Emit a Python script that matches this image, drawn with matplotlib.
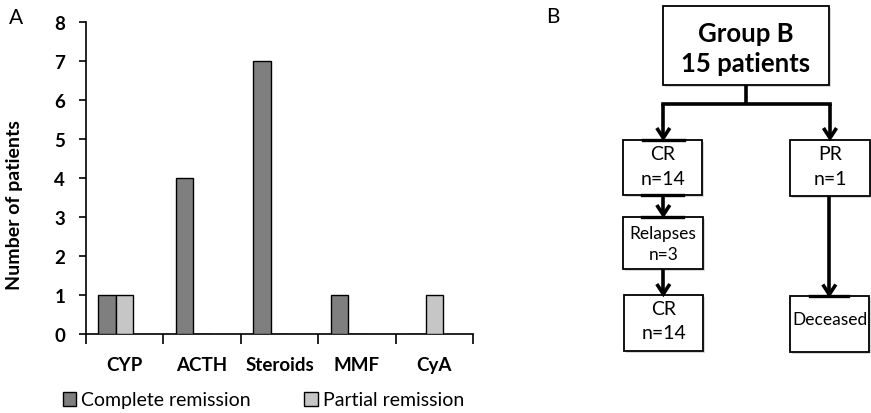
import matplotlib
matplotlib.use("Agg")
import matplotlib.pyplot as plt
from matplotlib.patches import Rectangle
from matplotlib.lines import Line2D

plt.rcParams['font.family'] = ['Lato', 'DejaVu Sans']

# ---- data ----
categories = ["CYP", "ACTH", "Steroids", "MMF", "CyA"]
complete_remission = [1, 4, 7, 1, 0]
partial_remission = [1, 0, 0, 0, 1]
yticks = [0, 1, 2, 3, 4, 5, 6, 7, 8]
series_labels = ["Complete remission", "Partial remission"]

flow_top = ["Group B", "15 patients"]
flow_cr = ["CR", "n=14"]
flow_pr = ["PR", "n=1"]
flow_rel = ["Relapses", "n=3"]
flow_cr2 = ["CR", "n=14"]
flow_dec = ["Deceased"]

W, H = 871, 414
fig = plt.figure(figsize=(W / 100, H / 100), dpi=100)

dark = "#7f7f7f"
light = "#c6c6c6"

# ---- Panel A ----
ax = fig.add_axes([86 / W, (H - 335) / H, 387 / W, (335 - 22.7) / H])
bw = 0.226
x = list(range(len(categories)))
b1 = ax.bar([i - bw for i in x], complete_remission, width=bw, color=dark,
            edgecolor="black", linewidth=1.0, zorder=3)
b2 = ax.bar(x, partial_remission, width=bw, color=light,
            edgecolor="black", linewidth=1.0, zorder=3)
ax.set_xlim(-0.5, len(categories) - 0.5)
ax.set_ylim(0, 8)
ax.set_yticks(yticks)
ax.set_yticklabels([str(v) for v in yticks], fontsize=13.5, fontweight="bold")
ax.set_xticks([i - 0.5 for i in range(len(categories) + 1)])
ax.set_xticklabels([])
ax.set_xticks(x, minor=True)
ax.set_xticklabels(categories, minor=True, fontsize=13.5, fontweight="bold")
ax.tick_params(axis="x", which="major", length=7, width=1.2, direction="out")
ax.tick_params(axis="x", which="minor", length=0, pad=16)
ax.tick_params(axis="y", length=5, width=1.2, direction="out", pad=10)
for s in ["top", "right"]:
    ax.spines[s].set_visible(False)
for s in ["left", "bottom"]:
    ax.spines[s].set_linewidth(1.2)
ax.set_ylabel("Number of patients", fontsize=14, fontweight="bold")
ax.yaxis.set_label_coords(-0.163, 0.416)

leg = fig.legend([b1, b2], series_labels, loc="center left",
                 bbox_to_anchor=(55 / W, (H - 401) / H), ncol=2, frameon=False,
                 fontsize=14, handlelength=0.7, handleheight=0.7,
                 handletextpad=0.25, columnspacing=2.75, borderaxespad=0)

fig.text(9 / W, (H - 18) / H, "A", fontsize=15, va="center", ha="left")
fig.text(546 / W, (H - 17) / H, "B", fontsize=15, va="center", ha="left")

# ---- Panel B (flowchart, pixel coordinates) ----
fx = fig.add_axes([0, 0, 1, 1], zorder=5)
fx.set_xlim(0, W)
fx.set_ylim(H, 0)
fx.axis("off")
fx.patch.set_alpha(0)

LW = 2.6


def box(x0, y0, x1, y1, lines, fs, bold=False, ys=None):
    fx.add_patch(Rectangle((x0 + 2, y0 + 2), x1 - x0, y1 - y0, facecolor="#d8d8d8",
                           edgecolor="none", zorder=1))
    fx.add_patch(Rectangle((x0, y0), x1 - x0, y1 - y0, facecolor="white",
                           edgecolor="black", linewidth=1.3, zorder=2))
    cx = (x0 + x1) / 2
    for t, yy in zip(lines, ys):
        fx.text(cx, yy, t, fontsize=fs, ha="center", va="center",
                fontweight="bold" if bold else "normal", zorder=3)


def line(xs, ys, cap="butt"):
    fx.add_line(Line2D(xs, ys, color="black", linewidth=LW, zorder=4,
                       solid_capstyle=cap, solid_joinstyle="miter"))


def arrow(x0, y0, x1, y1):
    line([x0, x1], [y0, y1 - 1])
    line([x1 - 6.5, x1, x1 + 6.5], [y1 - 11, y1 - 1, y1 - 11])


def seg(x0, x1, y):
    fx.add_line(Line2D([x0, x1], [y, y], color="black", linewidth=2.4, zorder=4))


box(662.7, 7.3, 829.3, 86, flow_top, 18.5, bold=True, ys=[34, 64])
box(623.3, 140.7, 702.3, 196, flow_cr, 14, ys=[155, 180])
box(790, 140.7, 870, 196.7, flow_pr, 14, ys=[155, 180])
box(623.3, 217.7, 703.3, 270, flow_rel, 12.5, ys=[234, 255])
box(624, 296, 703.3, 351.7, flow_cr2, 14, ys=[310, 334])
box(790, 296.7, 869.3, 352.7, flow_dec, 12.5, ys=[320])

# connectors
line([746, 746], [86, 105])
line([663.3, 830], [105, 105], cap="projecting")
arrow(663.3, 105, 663.3, 140)
arrow(830, 105, 830, 140)
arrow(663.3, 196, 663.3, 217)
arrow(663.3, 270, 663.3, 296)
arrow(829.3, 196.7, 829.3, 296.5)

seg(643, 684, 140.7)
seg(642, 683, 196)
seg(642, 683, 217.7)
seg(810, 848, 296.7)

fig.savefig("out.png", dpi=100)
